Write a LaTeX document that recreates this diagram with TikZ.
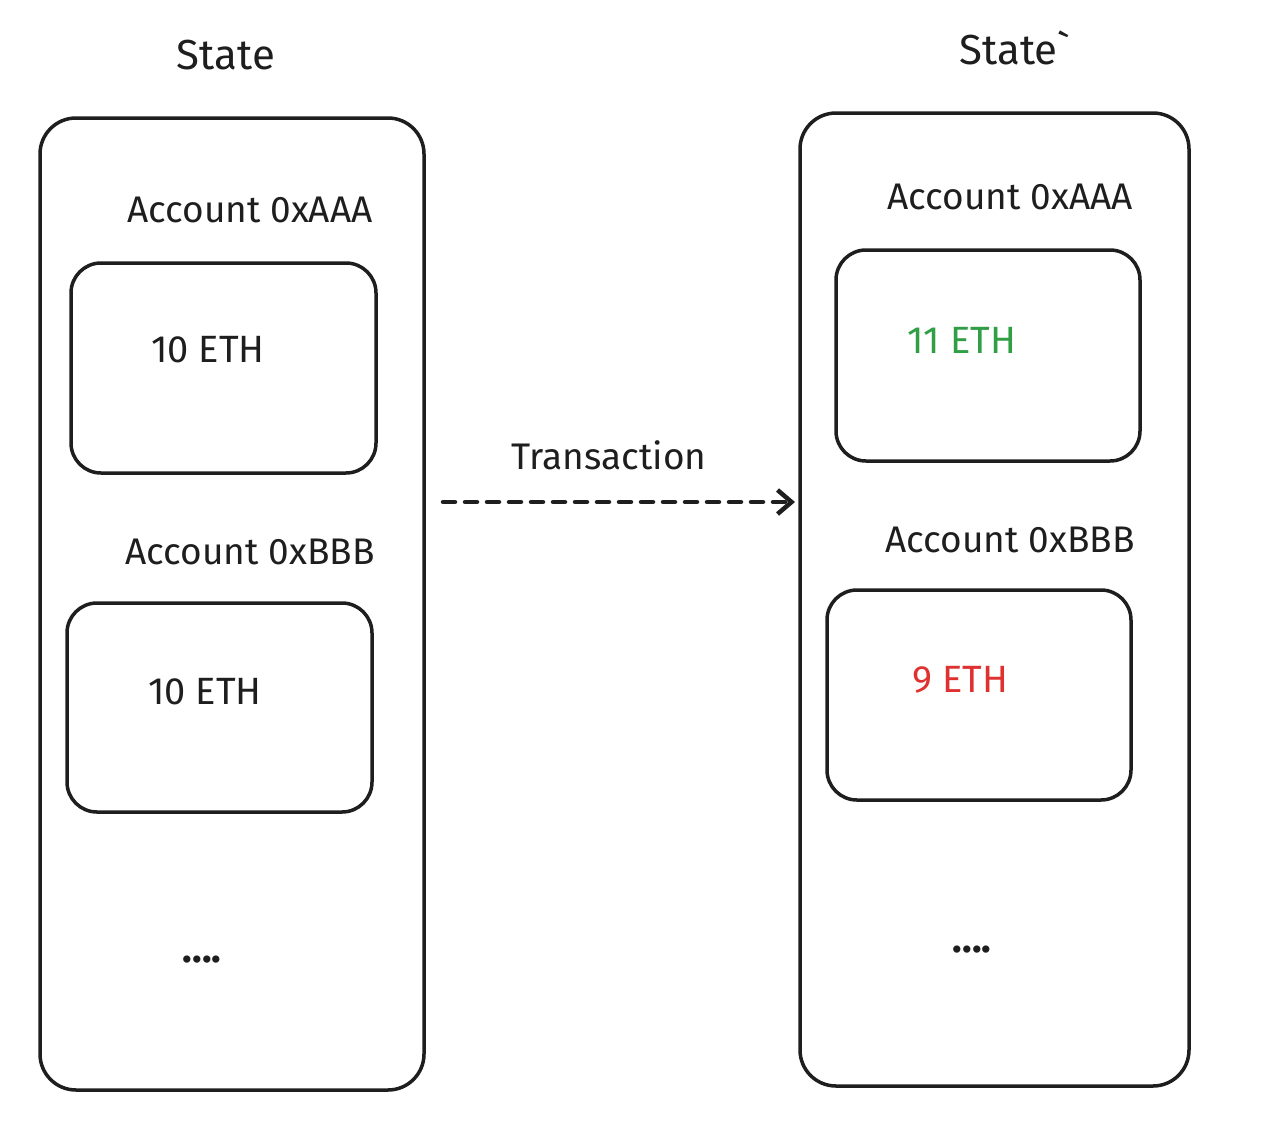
\documentclass[tikz,border=0pt]{standalone}
\usepackage{fontspec}
\setmainfont{Fira Sans}
\usetikzlibrary{arrows.meta}
\definecolor{ink}{HTML}{1E1E1E}
\definecolor{gain}{HTML}{2F9E44}
\definecolor{loss}{HTML}{E03131}
\begin{document}
\begin{tikzpicture}[x=1pt,y=-1pt,
  box/.style={draw=ink,line width=3.5pt,rounded corners=30pt},
  outerbox/.style={box,rounded corners=36pt},
  lbl/.style={text=ink,font=\fontsize{37}{44}\selectfont,inner sep=0pt},
  ttl/.style={lbl,font=\fontsize{42}{50}\selectfont},
  bal/.style={lbl,font=\fontsize{38}{46}\selectfont},
  dots/.style={lbl,font=\bfseries\fontsize{40}{48}\selectfont}]
\useasboundingbox (0,0) rectangle (1278,1144);
% outer boxes
\node[outerbox,minimum width=384pt,minimum height=972pt] (S) at (232,604) {};
\node[outerbox,minimum width=389pt,minimum height=973pt] (T) at (994.5,599.5) {};
% inner boxes
\node[box,minimum width=305pt,minimum height=210pt] (a1) at (223.5,368) {};
\node[box,minimum width=305pt,minimum height=209pt] (b1) at (219.5,707.5) {};
\node[box,minimum width=304pt,minimum height=211pt] (a2) at (988,355.5) {};
\node[box,minimum width=304pt,minimum height=210pt] (b2) at (979,695) {};
% titles
\node[ttl] (st1) at (226,55) {State};
\node[ttl] (st2) at (1015,48) {State\textasciigrave};
\node[lbl] (acA1) at (250,210) {Account 0xAAA};
\node[bal] (e1) at (208,350) {10 ETH};
\node[lbl] (acB1) at (250,552) {Account 0xBBB};
\node[bal] (e2) at (205,692) {10 ETH};
\node[dots] (d1) at (202,960) {....};
\node[lbl] (acA2) at (1010,197) {Account 0xAAA};
\node[bal,text=gain] (e3) at (962,340) {11 ETH};
\node[lbl] (acB2) at (1010,540) {Account 0xBBB};
\node[bal,text=loss] (e4) at (960,680) {9 ETH};
\node[dots] (d2) at (972,950) {....};
\node[lbl] (tx) at (609,455) {Transaction};
% arrow
\coordinate (ts) at (443,502);
\coordinate (te) at (795,502);
\draw[ink,line width=4.5pt,dash pattern=on 12pt off 10pt,line cap=round,
  -{Straight Barb[length=14pt,width=24pt,line width=4.5pt]}] (ts) -- (te);
\end{tikzpicture}
\end{document}
